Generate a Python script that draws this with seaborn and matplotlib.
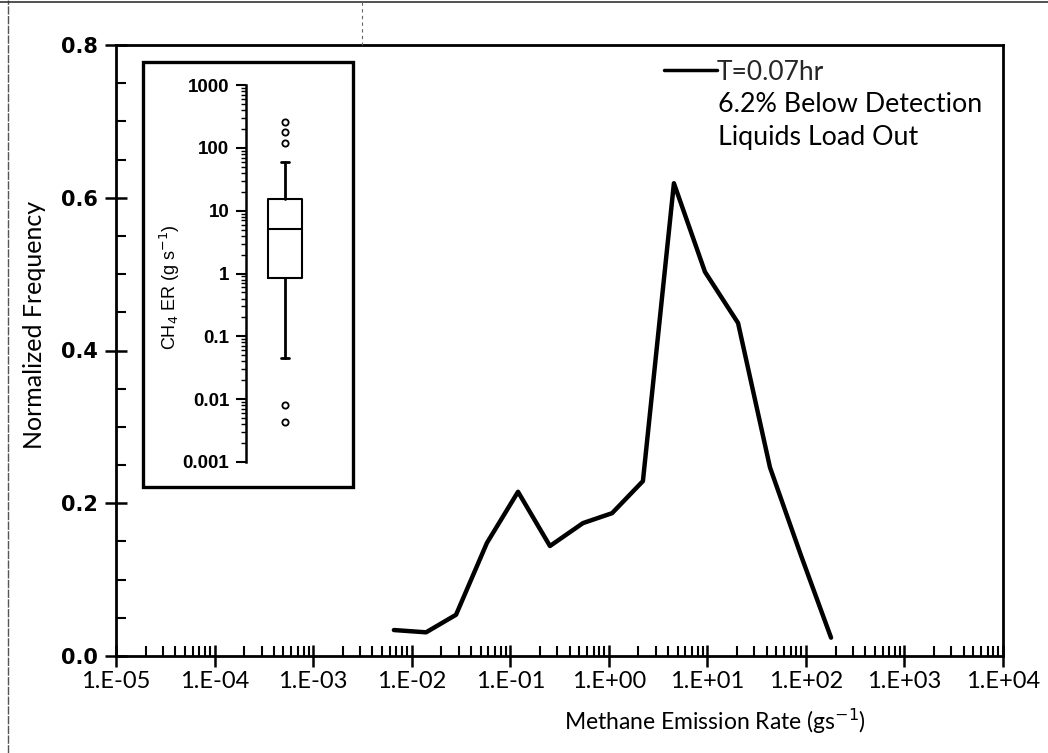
import numpy as np
import matplotlib
matplotlib.use("Agg")
import matplotlib.pyplot as plt
import seaborn as sns
import pandas as pd
from matplotlib.patches import Rectangle
from matplotlib.lines import Line2D
from matplotlib.ticker import FixedLocator, MultipleLocator, NullFormatter, LogLocator

# ---------------- data ----------------
emission_rate = [0.0066, 0.0140, 0.0282, 0.058, 0.12, 0.253, 0.547, 1.08, 2.22,
                 4.58, 9.46, 20.5, 43.2, 89, 180]
norm_freq = [0.034, 0.031, 0.054, 0.148, 0.215, 0.144, 0.174, 0.187, 0.229,
             0.619, 0.503, 0.436, 0.247, 0.132, 0.024]
series_label = "T=0.07hr"
note_lines = ["6.2% Below Detection", "Liquids Load Out"]
x_tick_values = [1e-5, 1e-4, 1e-3, 1e-2, 1e-1, 1e0, 1e1, 1e2, 1e3, 1e4]
x_tick_labels = ["1.E-05", "1.E-04", "1.E-03", "1.E-02", "1.E-01",
                 "1.E+00", "1.E+01", "1.E+02", "1.E+03", "1.E+04"]
y_tick_values = [0.0, 0.2, 0.4, 0.6, 0.8]
y_tick_labels = ["0.0", "0.2", "0.4", "0.6", "0.8"]

# inset box-plot summary (g s^-1)
box_whislo = 0.045
box_q1 = 0.85
box_med = 5.2
box_q3 = 15.3
box_whishi = 59
box_fliers = [260, 180, 120, 0.008, 0.0044]
inset_tick_values = [0.001, 0.01, 0.1, 1, 10, 100, 1000]
inset_tick_labels = ["0.001", "0.01", "0.1", "1", "10", "100", "1000"]

# ---------------- figure ----------------
sns.set_theme(style="white")
plt.rcParams['font.family'] = ['Lato', 'DejaVu Sans']

W, H = 1048, 753
fig = plt.figure(figsize=(W / 100, H / 100), dpi=100)
fig.patch.set_facecolor("white")

def fx(px):
    return px / W

def fy(py):
    return 1 - py / H

# main axes: x 116..1003, y 45..656
AX_L, AX_R, AX_T, AX_B = 116, 1003, 45, 656
AW, AH = AX_R - AX_L, AX_B - AX_T
ax = fig.add_axes([fx(AX_L), fy(AX_B), fx(AW), fy(AX_T) - fy(AX_B)])
df = pd.DataFrame({"rate": emission_rate, "freq": norm_freq})
sns.lineplot(data=df, x="rate", y="freq", ax=ax, color="black", linewidth=3.2,
             label=series_label, sort=False)
ax.set_xscale("log")
ax.set_xlim(1e-5, 1e4)
ax.set_ylim(0, 0.8)

ax.xaxis.set_major_locator(FixedLocator(x_tick_values))
ax.set_xticklabels(x_tick_labels)
ax.xaxis.set_minor_locator(LogLocator(base=10, subs=np.arange(2, 10), numticks=50))
ax.xaxis.set_minor_formatter(NullFormatter())
ax.yaxis.set_major_locator(FixedLocator(y_tick_values))
ax.set_yticklabels(y_tick_labels)
ax.yaxis.set_minor_locator(MultipleLocator(0.05))

ax.tick_params(axis="both", which="major", direction="inout", length=16, width=1.8,
               color="black", bottom=True, left=True)
ax.tick_params(axis="both", which="minor", direction="in", length=7, width=1.5,
               color="black", bottom=True, left=True)
ax.tick_params(axis="x", which="major", labelsize=17, pad=3, labelcolor="black")
ax.tick_params(axis="y", which="major", labelsize=15, pad=5, labelcolor="black")
for lab in ax.get_yticklabels():
    lab.set_family("DejaVu Sans")
    lab.set_fontweight("bold")

for s in ax.spines.values():
    s.set_visible(True)
    s.set_color("black")
    s.set_linewidth(2.0)

ax.set_xlabel("Methane Emission Rate (gs$^{-1}$)", fontsize=16.5, color="black")
ax.xaxis.set_label_coords((715 - AX_L) / AW, (AX_B - 707) / AH)
ax.set_ylabel("Normalized Frequency", fontsize=18, color="black")
ax.yaxis.set_label_coords((46 - AX_L) / AW, (AX_B - 325) / AH)
ax.grid(False)

leg = ax.legend(loc="center left", bbox_to_anchor=((664 - AX_L) / AW, (AX_B - 72) / AH),
                frameon=False, fontsize=19, handlelength=2.0, handletextpad=0.0,
                borderaxespad=0, borderpad=0)
for line in leg.get_lines():
    line.set_linewidth(2.5)
for i, t in enumerate(note_lines):
    ax.text((718 - AX_L) / AW, (AX_B - 105 - 33 * i) / AH, t, transform=ax.transAxes,
            fontsize=19.3, color="black", va="center", ha="left")

# inset frame
fig.patches.append(Rectangle((fx(143), fy(487)), fx(353 - 143), fy(62) - fy(487),
                             transform=fig.transFigure, fill=False, edgecolor="black",
                             linewidth=2.4, zorder=5))

# scan border lines of the original page
fig.add_artist(Line2D([fx(8), fx(8)], [0, 1], transform=fig.transFigure,
                      color="#555555", linewidth=1.0, linestyle=(0, (6, 1))))
fig.add_artist(Line2D([0, 1], [fy(2), fy(2)], transform=fig.transFigure,
                      color="#333333", linewidth=1.2))
fig.add_artist(Line2D([fx(362), fx(362)], [fy(2), fy(45)], transform=fig.transFigure,
                      color="#666666", linewidth=0.8, linestyle=(0, (3, 3))))

# inset axes: spine at x=246, y 85 (1000) .. 462 (0.001)
IL, IT, IB = 246, 85, 462
iax = fig.add_axes([fx(IL), fy(IB), fx(100), fy(IT) - fy(IB)])
iax.set_facecolor("none")
stats = [dict(med=box_med, q1=box_q1, q3=box_q3, whislo=box_whislo,
              whishi=box_whishi, fliers=box_fliers, label="")]
iax.bxp(stats, positions=[0.39], widths=0.34, capwidths=0.08, showfliers=True,
        boxprops=dict(color="black", linewidth=1.5),
        medianprops=dict(color="black", linewidth=1.5),
        whiskerprops=dict(color="black", linewidth=2.0),
        capprops=dict(color="black", linewidth=2.0),
        flierprops=dict(marker="o", markersize=4.5, markerfacecolor="white",
                        markeredgecolor="black", markeredgewidth=1.3))
iax.set_yscale("log")
iax.set_ylim(0.001, 1000)
iax.set_xlim(0, 1)
iax.set_xticks([])
iax.yaxis.set_major_locator(FixedLocator(inset_tick_values))
iax.set_yticklabels(inset_tick_labels)
iax.yaxis.set_minor_locator(LogLocator(base=10, subs=np.arange(2, 10), numticks=50))
iax.yaxis.set_minor_formatter(NullFormatter())
iax.tick_params(axis="y", which="major", direction="out", length=7, width=1.5,
                labelsize=13.5, pad=5, left=True, color="black", labelcolor="black")
iax.tick_params(axis="y", which="minor", direction="out", length=3.5, width=1.0,
                left=True, color="black")
for lab in iax.get_yticklabels():
    lab.set_family("Liberation Sans")
    lab.set_fontweight("bold")
for k, s in iax.spines.items():
    s.set_visible(k == "left")
iax.spines["left"].set_linewidth(1.8)
iax.spines["left"].set_color("black")
iax.set_ylabel("CH$_4$ ER (g s$^{-1}$)", fontsize=13, color="black",
               family="Liberation Sans")
iax.yaxis.set_label_coords((182 - IL) / 100, (IB - 287) / (IB - IT))
iax.grid(False)

fig.savefig("out.png", dpi=100, facecolor="white")
